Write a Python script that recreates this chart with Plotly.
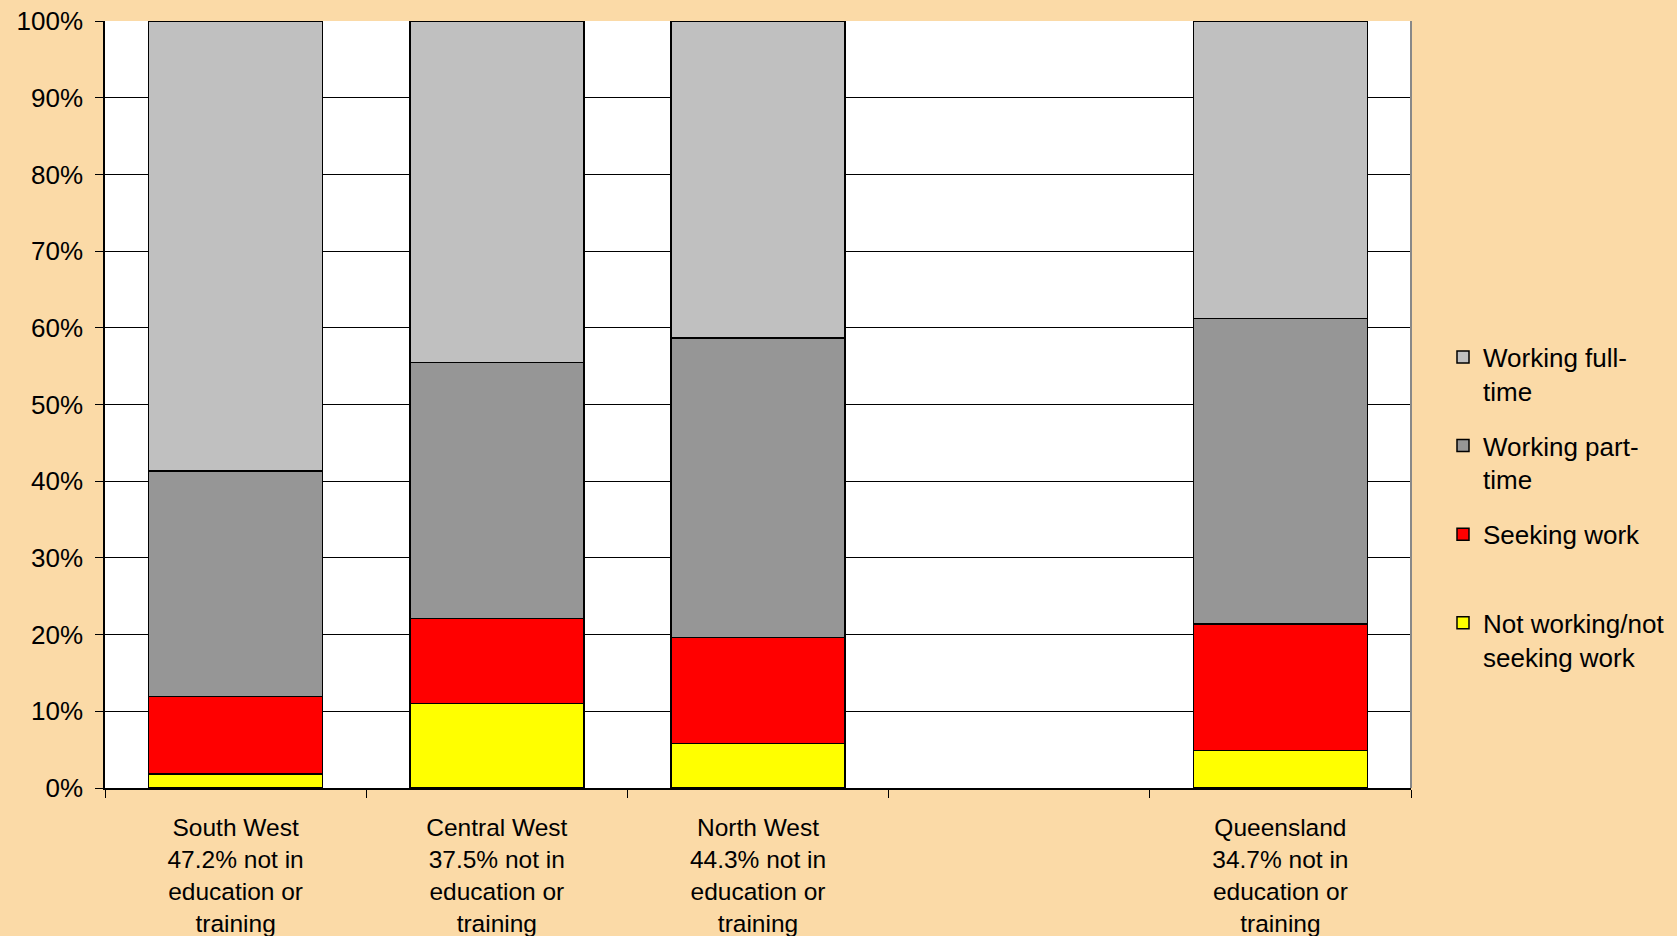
import plotly.graph_objects as go

categories = [
    "South West<br>47.2% not in<br>education or<br>training",
    "Central West<br>37.5% not in<br>education or<br>training",
    "North West<br>44.3% not in<br>education or<br>training",
    " ",
    "Queensland<br>34.7% not in<br>education or<br>training",
]

not_working = [1.8, 11.0, 5.8, None, 4.9]
seeking_work = [10.1, 11.1, 13.8, None, 16.5]
working_part_time = [29.4, 33.4, 39.1, None, 39.8]
working_full_time = [58.7, 44.5, 41.3, None, 38.8]

series_names = [
    "Not working/not<br>seeking work",
    "Seeking work<br> ",
    "Working part-<br>time",
    "Working full-<br>time",
]
series_values = [not_working, seeking_work, working_part_time, working_full_time]
series_colors = ["#FFFF00", "#FF0000", "#969696", "#C0C0C0"]

y_ticks = [0, 10, 20, 30, 40, 50, 60, 70, 80, 90, 100]
y_tick_labels = [f"{v}%" for v in y_ticks]

FONT = "Liberation Sans, Arial, sans-serif"

fig = go.Figure()
n = len(series_names)
for i, (name, vals, col) in enumerate(zip(series_names, series_values, series_colors)):
    fig.add_trace(go.Bar(
        x=categories, y=vals, name=name,
        marker=dict(color=col, line=dict(color="#000000", width=1.5)),
        legendgroup=f"g{i}", legendrank=1000 + (n - i),
    ))

fig.update_layout(
    width=1677, height=936,
    barmode="stack", bargap=0.334,
    paper_bgcolor="#FBDAA7", plot_bgcolor="#FFFFFF",
    margin=dict(l=105, r=266, t=21, b=148, autoexpand=False),
    font=dict(family=FONT, size=26, color="#000000"),
    showlegend=True,
    legend=dict(
        x=1.0245, xanchor="left", y=0.5925, yanchor="top",
        traceorder="grouped", tracegroupgap=18,
        valign="top", bgcolor="rgba(0,0,0,0)",
        font=dict(family=FONT, size=26, color="#000000"),
    ),
)
fig.update_xaxes(
    type="category", categoryorder="array", categoryarray=categories,
    tickson="boundaries", ticks="outside", ticklen=8, tickcolor="#000000",
    showline=True, linecolor="#000000", linewidth=1.5, mirror=False,
    showgrid=False, ticklabelstandoff=17, automargin=False,
    tickfont=dict(family=FONT, size=24.5),
)
fig.update_yaxes(
    range=[0, 100], tickvals=y_ticks, ticktext=y_tick_labels,
    ticks="outside", ticklen=8, tickcolor="#000000",
    showline=True, linecolor="#000000", linewidth=1.5,
    showgrid=True, gridcolor="#000000", gridwidth=1.2,
    zeroline=False, ticklabelstandoff=7, automargin=False,
    tickfont=dict(family=FONT, size=26),
)
fig.add_shape(type="line", xref="paper", yref="paper", x0=1, x1=1, y0=0, y1=1,
              line=dict(color="#888888", width=2))

fig.write_html("out.html", config={"displayModeBar": False},
               post_script="document.body.style.margin='0';")
